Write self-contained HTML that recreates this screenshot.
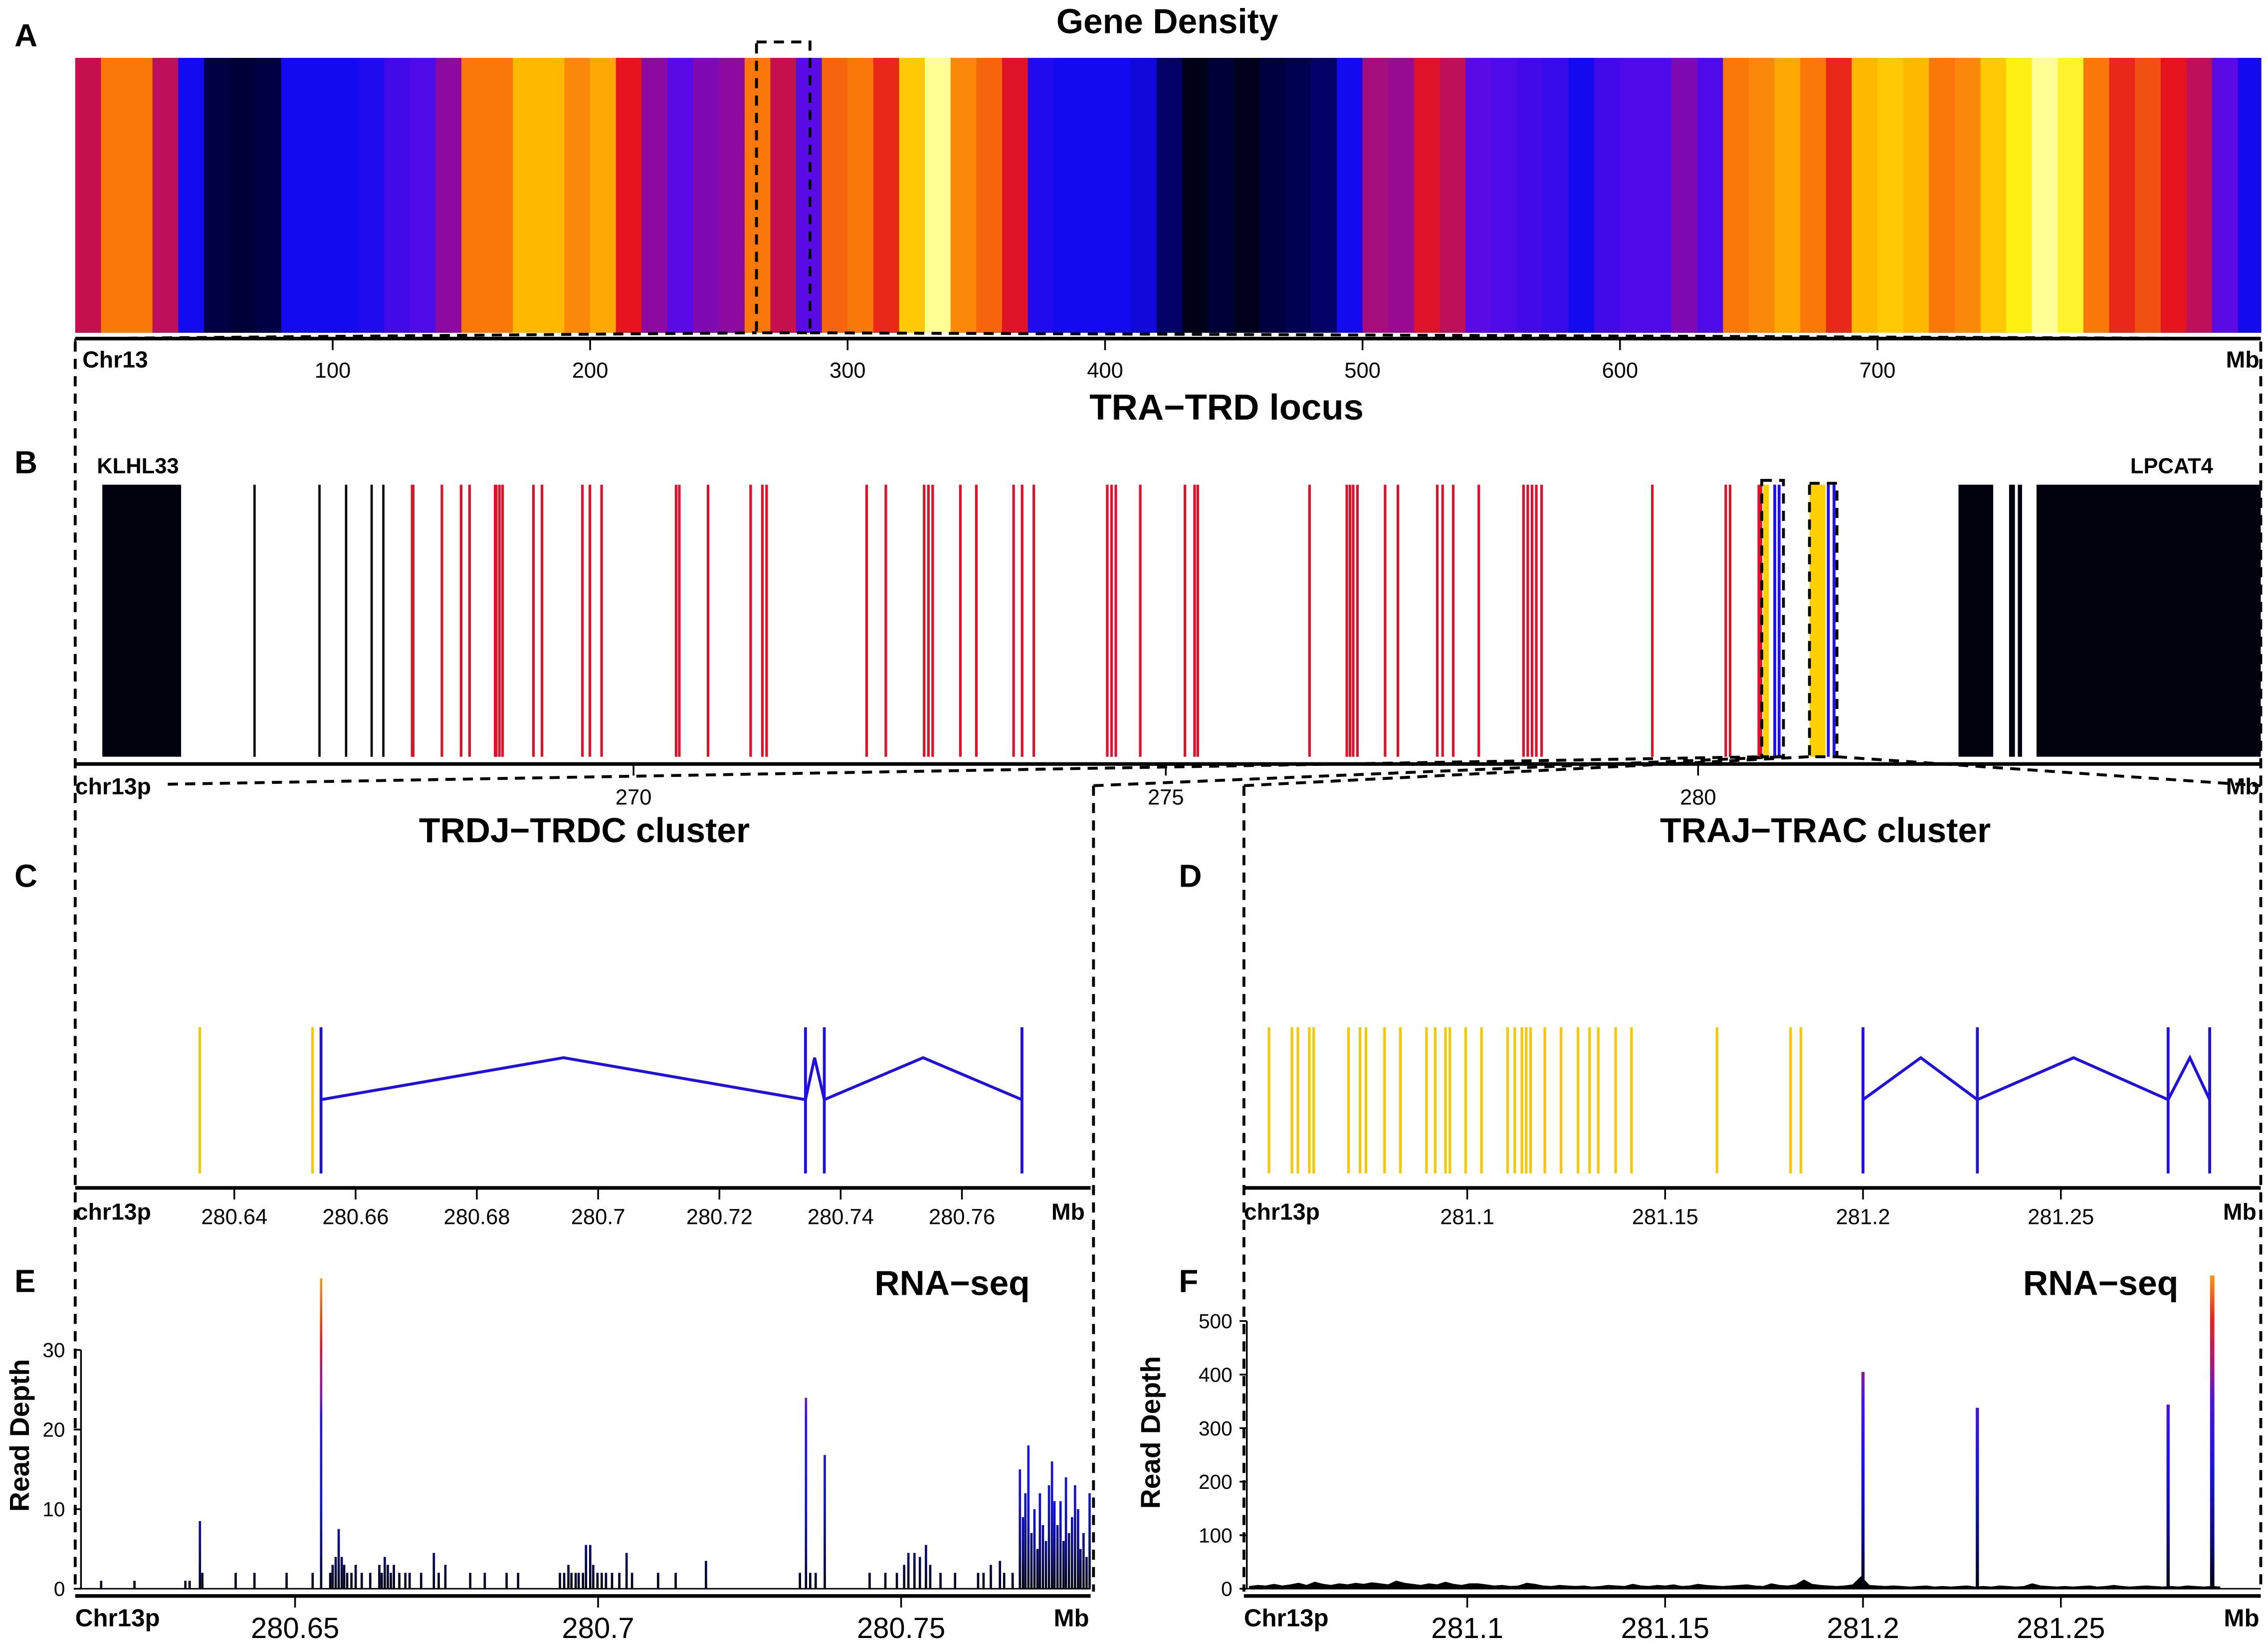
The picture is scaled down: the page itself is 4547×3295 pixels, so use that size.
<!DOCTYPE html>
<html><head><meta charset="utf-8">
<style>
html,body{margin:0;padding:0;background:#fff;}
svg{display:block;font-family:"Liberation Sans",sans-serif;}
</style></head>
<body>
<svg id="fig" width="4547" height="3295" viewBox="0 0 1568 1136.2" preserveAspectRatio="none" xmlns="http://www.w3.org/2000/svg">
<defs>
<linearGradient id="gE" gradientUnits="userSpaceOnUse" x1="0" y1="1098" x2="0" y2="883">
<stop offset="0" stop-color="#000010"/><stop offset="0.12" stop-color="#0a0a70"/><stop offset="0.28" stop-color="#1010e0"/><stop offset="0.55" stop-color="#2a10f0"/><stop offset="0.62" stop-color="#7a18b0"/><stop offset="0.78" stop-color="#e01030"/><stop offset="1" stop-color="#ff9a10"/>
</linearGradient>
<linearGradient id="gF" gradientUnits="userSpaceOnUse" x1="0" y1="1098" x2="0" y2="880">
<stop offset="0" stop-color="#000010"/><stop offset="0.15" stop-color="#0a0a80"/><stop offset="0.4" stop-color="#1a10f0"/><stop offset="0.6" stop-color="#4a14e0"/><stop offset="0.7" stop-color="#a01880"/><stop offset="0.85" stop-color="#e82020"/><stop offset="1" stop-color="#ff9a10"/>
</linearGradient>
</defs>
<g id="root"></g>
</svg>
<script>
// ---- Panel A data (gene density per 10 Mb bin, 0..1) ----
const densityBinMb = 10;
const densityValues = [0.62,0.8,0.8,0.6,0.3,0.15,0.12,0.15,0.3,0.3,0.3,0.32,0.38,0.4,0.5,0.8,0.8,0.88,0.88,0.82,0.86,0.7,0.5,0.42,0.48,0.5,0.8,0.62,0.42,0.78,0.8,0.72,0.9,1,0.82,0.78,0.68,0.32,0.3,0.3,0.3,0.28,0.18,0.05,0.12,0.06,0.14,0.16,0.18,0.3,0.55,0.52,0.68,0.6,0.42,0.4,0.38,0.36,0.3,0.38,0.4,0.4,0.48,0.4,0.8,0.82,0.86,0.8,0.72,0.88,0.9,0.88,0.8,0.82,0.9,0.95,1,0.96,0.8,0.72,0.76,0.7,0.6,0.42,0.3];
const aTicks = [100,200,300,400,500,600,700];
// ---- Panel B data (Mb) ----
const bBlackBlocks = [[265.01,265.75],[282.446,282.772],[282.921,282.976],[283.003,283.043],[283.179,285.3]];
const bBlackLines = [266.44,267.05,267.3,267.54,267.65];
const bRedLines = [267.92,267.93,268.2,268.38,268.46,268.7,268.71,268.74,268.77,269.06,269.14,269.52,269.59,269.7,270.4,270.43,270.7,271.1,271.21,271.25,272.19,272.37,272.73,272.77,272.81,273.07,273.22,273.57,273.65,273.76,274.45,274.49,274.53,274.76,275.18,275.27,275.3,276.35,276.7,276.73,276.76,276.8,277.06,277.18,277.55,277.6,277.7,277.94,278.36,278.4,278.44,278.48,278.53,279.57,280.26,280.3,280.57,280.59];
const bYellow = [[280.611,280.666],[281.046,281.196]];
const bBlue = [280.720,280.761,281.223,281.277];
const bTicks = [270,275,280];
// ---- Panel C data (Mb) ----
const cYellow = [280.6343,280.6529];
const cBlue = [280.6543,280.7342,280.7373,280.7699];
const cJoins = [[280.6543,280.6943,280.7342],[280.7342,280.7357,280.7373],[280.7373,280.7536,280.7699]];
const cTicks = [280.64,280.66,280.68,280.70,280.72,280.74,280.76];
const cTickLabels = ["280.64","280.66","280.68","280.7","280.72","280.74","280.76"];
// ---- Panel D data (Mb) ----
const dYellow = [281.0499,281.0557,281.0572,281.0601,281.0612,281.0700,281.0729,281.0744,281.0791,281.0831,281.0897,281.0919,281.0945,281.0956,281.0996,281.1036,281.1102,281.1120,281.1138,281.1149,281.1160,281.1196,281.1237,281.1280,281.1309,281.1331,281.1375,281.1415,281.1631,281.1817,281.1843];
const dBlue = [281.2000,281.2289,281.2771,281.2876];
const dJoins = [[281.2,281.2146,281.2289],[281.2289,281.2532,281.2771],[281.2771,281.2826,281.2876]];
const dTicks = [281.1,281.15,281.2,281.25];
const dTickLabels = ["281.1","281.15","281.2","281.25"];
// ---- Panel E data ----
const ePos = [280.6180,280.6235,280.6319,280.6326,280.6343,280.6347,280.6402,280.6433,280.6486,280.6529,280.6543,280.6558,280.6562,280.6567,280.6572,280.6577,280.6581,280.6586,280.6593,280.6600,280.6610,280.6624,280.6639,280.6643,280.6648,280.6653,280.6658,280.6663,280.6672,280.6682,280.6689,280.6708,280.6729,280.6737,280.6748,280.6789,280.6813,280.6849,280.6868,280.6937,280.6944,280.6951,280.6956,280.6963,280.6968,280.6975,280.6980,280.6987,280.6992,280.6999,280.7006,280.7013,280.7023,280.7035,280.7047,280.7056,280.7099,280.7128,280.7178,280.7333,280.7343,280.7350,280.7359,280.7374,280.7448,280.7474,280.7493,280.7505,280.7512,280.7522,280.7531,280.7541,280.7548,280.7565,280.7589,280.7627,280.7636,280.7648,280.7663,280.7670,280.7684,280.7696,280.7701,280.7705,280.7710,280.7715,280.7720,280.7725,280.7729,280.7734,280.7739,280.7744,280.7749,280.7753,280.7758,280.7763,280.7768,280.7772,280.7777,280.7782,280.7787,280.7792,280.7796,280.7801,280.7806,280.7811];
const eVal = [1,1,1,1,8.5,2,2,2,2,2,39,2,3,4,7.5,4,3,2,2,3,2,2,3,2,4,3,2,3,2,2,2,2,4.5,2,3,2,2,2,2,2,2,3,2,2,2,2,5.5,5.5,3,2,2,2,2,2,4.5,2,2,2,3.5,2,24,2,2,16.8,2,2,2,3,4.5,4.5,4,5.5,3,2,2,2,2,3,3.5,2,2,15,9,12,18,7,10,5,12,8,6,13,16,11,8,11,6,14,7,9,13,10,5,7,4,12];
const eTicksY = [0,10,20,30];
const eTicksX = [280.65,280.7,280.75];
// ---- Panel F data ----
const fNoiseStart = 281.045;
const fNoiseStep = 0.00206;
const fNoise = [4,6,5,8,5,7,10,6,12,8,6,9,7,10,8,11,9,7,14,10,8,6,9,7,12,8,6,9,9,7,5,6,4,5,10,8,5,4,6,5,4,5,3,4,6,5,4,8,5,4,6,5,7,4,5,8,6,5,4,5,6,7,5,4,9,6,5,7,16,8,6,5,4,5,7,22,6,5,4,5,4,3,4,5,3,4,3,4,5,3,4,3,5,4,3,4,9,5,4,3,4,3,4,5,3,4,6,4,3,4,5,4,3,4,3,5,4,3,4,3];
const fPeakPos = [281.2,281.2289,281.2771,281.2881];
const fPeakVal = [405,338,344,585];
const fTicksY = [0,100,200,300,400,500];
const fTicksX = [281.1,281.15,281.2,281.25];

const NS="http://www.w3.org/2000/svg";
const root=document.getElementById('root');
function mk(tag,attrs,parent){const e=document.createElementNS(NS,tag);for(const k in attrs)e.setAttribute(k,attrs[k]);(parent||root).appendChild(e);return e;}
function txt(s,x,y,size,weight,anchor,parent){const t=mk('text',{x:x,y:y,'font-size':size,'font-weight':weight,'text-anchor':anchor||'start'},parent);t.textContent=s;return t;}
function cmap(v){const st=[[0,[0,0,0]],[0.15,[0,0,70]],[0.3,[20,10,240]],[0.42,[90,10,230]],[0.5,[140,10,160]],[0.6,[190,15,90]],[0.7,[230,20,30]],[0.8,[250,120,10]],[0.88,[255,185,0]],[0.95,[255,240,20]],[1,[255,255,150]]];for(let i=1;i<st.length;i++){if(v<=st[i][0]){const a=st[i-1],b=st[i];const t=(v-a[0])/(b[0]-a[0]);const c=a[1].map((x,j)=>Math.round(x+(b[1][j]-x)*t));return 'rgb('+c.join(',')+')';}}return 'rgb(255,255,150)';}
const dash={stroke:'#000','stroke-width':2,'stroke-dasharray':'7 5',fill:'none'};

// ===== Panel A =====
const xA=v=>52+v*1.78;
const gA=mk('g',{});


let l=txt('A',10,32,22,'bold','start',gA);
l=txt('Gene Density',807,23,24,'bold','middle',gA);
densityValues.forEach((v,i)=>{const x0=xA(i*densityBinMb),x1=Math.min(xA((i+1)*densityBinMb),1563);
 const r=mk('rect',{x:x0,y:40,width:x1-x0+0.4,height:190,fill:cmap(v)},gA);
 
 });
mk('line',{x1:52,y1:234,x2:1563,y2:234,stroke:'#000','stroke-width':2.5},gA);
mk('line',{x1:52,y1:234,x2:52,y2:241,stroke:'#000','stroke-width':1.2},gA);
aTicks.forEach(t=>{mk('line',{x1:xA(t),y1:234,x2:xA(t),y2:242,stroke:'#000','stroke-width':1.2},gA);
 const tl=txt(String(t),xA(t),261,15,'normal','middle',gA);
 
 });
txt('Chr13',57,254,16,'bold','start',gA);txt('Mb',1562,254,16,'bold','end',gA);
mk('rect',Object.assign({x:523,y:29,width:37,height:201},dash),gA);
mk('polyline',Object.assign({points:'52,234 523,230'},dash),gA);
mk('polyline',Object.assign({points:'560,230 1563,234'},dash),gA);

// ===== Panel B =====
const xB=v=>438+(v-270)*73.6;
const gB=mk('g',{});


txt('B',10,327,22,'bold','start',gB);
txt('TRA\u2212TRD locus',848,290,25,'bold','middle',gB);
txt('KLHL33',67,327,15,'bold','start',gB);
txt('LPCAT4',1530,327,15,'bold','end',gB);
const yT=335,yBt=523;
bBlackBlocks.forEach(b=>{const r=mk('rect',{x:xB(b[0]),y:yT,width:Math.min(xB(b[1]),1563)-xB(b[0]),height:yBt-yT,fill:'#02020f'},gB);
 
 });
bBlackLines.forEach(v=>{mk('line',{x1:xB(v),y1:yT,x2:xB(v),y2:yBt,stroke:'#000','stroke-width':1.6},gB);});
bRedLines.forEach(v=>{const r=mk('line',{x1:xB(v),y1:yT,x2:xB(v),y2:yBt,stroke:'#e0102a','stroke-width':1.8},gB);
 
 });
bYellow.forEach(b=>{mk('rect',{x:xB(b[0]),y:yT,width:xB(b[1])-xB(b[0]),height:yBt-yT,fill:'#ffd000'},gB);});
bBlue.forEach(v=>{mk('line',{x1:xB(v),y1:yT,x2:xB(v),y2:yBt,stroke:'#2010f0','stroke-width':2},gB);});
mk('rect',Object.assign({x:1218,y:332,width:15,height:191},dash),gB);
mk('rect',Object.assign({x:1251,y:334,width:19,height:189},dash),gB);
mk('line',{x1:52,y1:528,x2:1563,y2:528,stroke:'#000','stroke-width':2.5},gB);
bTicks.forEach(t=>{mk('line',{x1:xB(t),y1:528,x2:xB(t),y2:536,stroke:'#000','stroke-width':1.2},gB);
 const tl=txt(String(t),xB(t),556,15,'normal','middle',gB);
 
 });
txt('chr13p',52,549,16,'bold','start',gB);txt('Mb',1562,549,16,'bold','end',gB);
// borders & connectors
mk('line',Object.assign({x1:52,y1:236,x2:52,y2:1100},dash));
mk('line',Object.assign({x1:1563,y1:236,x2:1563,y2:1100},dash));
mk('line',Object.assign({x1:756,y1:543,x2:756,y2:1100},dash));
mk('line',Object.assign({x1:860,y1:543,x2:860,y2:1100},dash));
mk('polyline',Object.assign({points:'116,542 1218,523'},dash));
mk('polyline',Object.assign({points:'756,543 1233,523'},dash));
mk('polyline',Object.assign({points:'860,543 1251,523'},dash));
mk('polyline',Object.assign({points:'1270,523 1563,543'},dash));

// ===== Panel C =====
const xC=v=>162+(v-280.64)*4192;
const gC=mk('g',{});


txt('C',10,613,22,'bold','start',gC);
txt('TRDJ\u2212TRDC cluster',404,582,24,'bold','middle',gC);
cYellow.forEach(v=>{const r=mk('line',{x1:xC(v),y1:710,x2:xC(v),y2:811,stroke:'#f5c800','stroke-width':1.8},gC);
 
 });
cBlue.forEach(v=>{const r=mk('line',{x1:xC(v),y1:710,x2:xC(v),y2:811,stroke:'#2010e0','stroke-width':2},gC);
 
 });
cJoins.forEach(j=>{mk('polyline',{points:xC(j[0])+',760 '+xC(j[1])+',731 '+xC(j[2])+',760',fill:'none',stroke:'#2010e0','stroke-width':2},gC);});
mk('line',{x1:52,y1:821,x2:754,y2:821,stroke:'#000','stroke-width':2.5},gC);
cTicks.forEach((t,i)=>{mk('line',{x1:xC(t),y1:821,x2:xC(t),y2:829,stroke:'#000','stroke-width':1.2},gC);
 const tl=txt(cTickLabels[i],xC(t),846,15,'normal','middle',gC);
 
 });
txt('chr13p',52,843,16,'bold','start',gC);txt('Mb',750,843,16,'bold','end',gC);

// ===== Panel D =====
const xD=v=>1288+(v-281.2)*2736;
const gD=mk('g',{});


txt('D',815,613,22,'bold','start',gD);
txt('TRAJ\u2212TRAC cluster',1262,582,24,'bold','middle',gD);
dYellow.forEach(v=>{const r=mk('line',{x1:xD(v),y1:710,x2:xD(v),y2:811,stroke:'#f5c800','stroke-width':1.8},gD);
 
 });
dBlue.forEach(v=>{const r=mk('line',{x1:xD(v),y1:710,x2:xD(v),y2:811,stroke:'#2010e0','stroke-width':2},gD);
 
 });
dJoins.forEach(j=>{mk('polyline',{points:xD(j[0])+',760 '+xD(j[1])+',731 '+xD(j[2])+',760',fill:'none',stroke:'#2010e0','stroke-width':2},gD);});
mk('line',{x1:860,y1:821,x2:1563,y2:821,stroke:'#000','stroke-width':2.5},gD);
dTicks.forEach((t,i)=>{mk('line',{x1:xD(t),y1:821,x2:xD(t),y2:829,stroke:'#000','stroke-width':1.2},gD);
 const tl=txt(dTickLabels[i],xD(t),846,15,'normal','middle',gD);
 
 });
txt('chr13p',860,843,16,'bold','start',gD);txt('Mb',1560,843,16,'bold','end',gD);

// ===== Panel E =====
const xE=v=>204+(v-280.65)*4190;
const yE=v=>1098-v*5.5;
const gE=mk('g',{});


txt('E',10,893,22,'bold','start',gE);
txt('RNA\u2212seq',712,895,24,'bold','end',gE);
ePos.forEach((p,i)=>{const x=xE(p);if(x>754)return;
 const r=mk('rect',{x:x-0.8,y:yE(eVal[i]),width:1.6,height:1098-yE(eVal[i]),fill:'url(#gE)'},gE);
 
 });
mk('line',{x1:52,y1:1098,x2:754,y2:1098,stroke:'#000','stroke-width':1},gE);
mk('line',{x1:52,y1:1103,x2:754,y2:1103,stroke:'#000','stroke-width':2.5},gE);
mk('line',{x1:56,y1:yE(0),x2:56,y2:yE(30),stroke:'#000','stroke-width':1.2},gE);
eTicksY.forEach(t=>{mk('line',{x1:51,y1:yE(t),x2:56,y2:yE(t),stroke:'#000','stroke-width':1.2},gE);
 const tl=txt(String(t),45,yE(t)+5,14,'normal','end',gE);
 
 });
let yl=txt('Read Depth',0,0,19,'bold','middle',gE);yl.setAttribute('transform','translate(20,992) rotate(-90)');

eTicksX.forEach(t=>{mk('line',{x1:xE(t),y1:1103,x2:xE(t),y2:1111,stroke:'#000','stroke-width':1.2},gE);
 const tl=txt(String(t),xE(t),1132,20,'normal','middle',gE);
 
 });
txt('Chr13p',52,1124,17,'bold','start',gE);txt('Mb',753,1124,17,'bold','end',gE);

// ===== Panel F =====
const xF=v=>1288+(v-281.2)*2736;
const yF=v=>1098-v*0.37;
const gF=mk('g',{});


txt('F',815,893,22,'bold','start',gF);
txt('RNA\u2212seq',1506,895,24,'bold','end',gF);
let dpath='M'+xF(fNoiseStart)+',1098';
fNoise.forEach((v,i)=>{const x=xF(fNoiseStart+i*fNoiseStep);dpath+=' L'+x+','+yF(v);});
dpath+=' L'+xF(fNoiseStart+(fNoise.length-1)*fNoiseStep)+',1098 Z';
const np=mk('path',{d:dpath,fill:'#000',stroke:'#000','stroke-width':0.8},gF);


fPeakPos.forEach((p,i)=>{const r=mk('rect',{x:xF(p)-1.1,y:yF(fPeakVal[i]),width:(i==3?3:2.2),height:1098-yF(fPeakVal[i]),fill:'url(#gF)'},gF);
 
 });
mk('line',{x1:860,y1:1098,x2:1563,y2:1098,stroke:'#000','stroke-width':1},gF);
mk('line',{x1:860,y1:1103,x2:1563,y2:1103,stroke:'#000','stroke-width':2.5},gF);
mk('line',{x1:862,y1:yF(0),x2:862,y2:yF(500),stroke:'#000','stroke-width':1.2},gF);
fTicksY.forEach(t=>{mk('line',{x1:857,y1:yF(t),x2:862,y2:yF(t),stroke:'#000','stroke-width':1.2},gF);
 const tl=txt(String(t),852,yF(t)+5,14,'normal','end',gF);
 
 });
yl=txt('Read Depth',0,0,19,'bold','middle',gF);yl.setAttribute('transform','translate(802,990) rotate(-90)');

fTicksX.forEach(t=>{mk('line',{x1:xF(t),y1:1103,x2:xF(t),y2:1111,stroke:'#000','stroke-width':1.2},gF);
 const tl=txt(String(t),xF(t),1132,20,'normal','middle',gF);
 
 });
txt('Chr13p',860,1124,17,'bold','start',gF);txt('Mb',1562,1124,17,'bold','end',gF);
</script>
</body></html>
